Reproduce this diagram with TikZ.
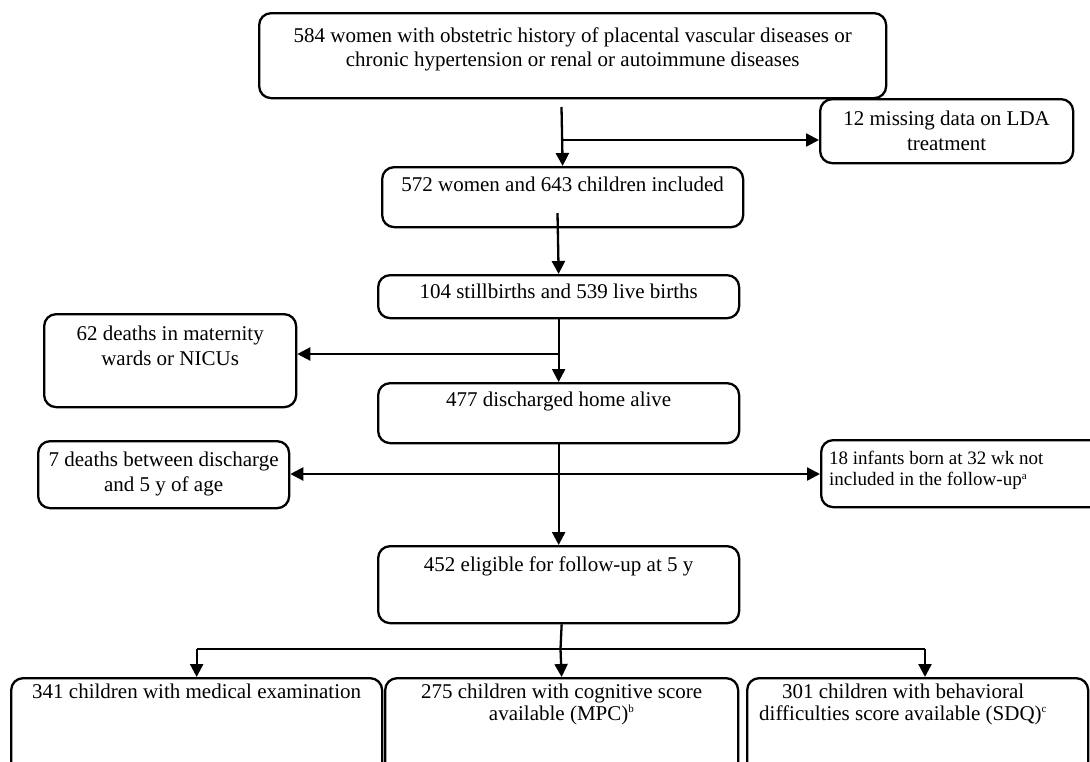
\documentclass[tikz,border=0pt]{standalone}
\usepackage{fontspec}
\setmainfont{Liberation Serif}
\usetikzlibrary{arrows.meta}
% #1 width, #2 height, #3 first-baseline offset, #4 text
\newcommand{\btx}[4]{\parbox[t][#2][t]{#1}{\centering\rule{0pt}{#3}#4}}
\tikzset{
  box/.style={draw, line width=2.3pt, rounded corners=12pt, inner sep=0pt, anchor=north west,
              font=\fontsize{21}{25}\selectfont},
  line/.style={line width=2.3pt},
  conn/.style={line width=2.3pt, -{Triangle[length=13pt,width=13pt]}},
  conn2/.style={line width=2.3pt, {Triangle[length=13pt,width=13pt]}-{Triangle[length=13pt,width=13pt]}}
}
\begin{document}
\begin{tikzpicture}[x=1pt,y=-1pt]
\useasboundingbox (0,0) rectangle (1090,761);

\node[box] (top) at (258,12) {\btx{627pt}{85pt}{29pt}{\fontsize{21}{24}\selectfont 584 women with obstetric history of placental vascular diseases or\\ chronic hypertension or renal or autoimmune diseases}};
\node[box] (miss) at (819,98) {\btx{253pt}{64pt}{26pt}{12 missing data on LDA\\treatment}};
\node[box] (incl) at (381,166) {\btx{361pt}{60pt}{24pt}{572 women and 643 children included}};
\node[box] (birth) at (377,274) {\btx{361pt}{43pt}{23pt}{104 stillbirths and 539 live births}};
\node[box] (dth1) at (43,313) {\btx{252pt}{93pt}{26pt}{62 deaths in maternity\\wards or NICUs}};
\node[box] (home) at (377,382) {\btx{361pt}{60pt}{23pt}{477 discharged home alive}};
\node[box] (dth2) at (37,440) {\btx{251pt}{67pt}{25pt}{7 deaths between discharge\\and 5 y of age}};
\node[box] (inf) at (820,439) {\parbox[t][67pt][t]{290pt}{\fontsize{19}{21.5}\selectfont\hspace*{8pt}\rule{0pt}{24pt}18 infants born at 32 wk not\\\hspace*{8pt}included in the follow-up\textsuperscript{\fontsize{11}{11}\selectfont a}}};
\node[box] (elig) at (377,545) {\btx{361pt}{77pt}{25pt}{452 eligible for follow-up at 5 y}};
\node[box] (med) at (10,677) {\btx{371pt}{110pt}{20pt}{\fontsize{21}{22}\selectfont 341 children with medical examination}};
\node[box] (cog) at (384,677) {\btx{353pt}{110pt}{20pt}{\fontsize{21}{22}\selectfont 275 children with cognitive score\\available (MPC)\textsuperscript{\fontsize{11}{11}\selectfont b}}};
\node[box] (beh) at (746,677) {\parbox[t][110pt][t]{341pt}{\rule{0pt}{20pt}\parbox[t]{312pt}{\centering\fontsize{21}{22}\selectfont 301 children with behavioral\\difficulties score available (SDQ)\textsuperscript{\fontsize{11}{11}\selectfont c}}}};

% connectors
\coordinate (s1) at (561.5,107);
\coordinate (b1) at (561.5,140);
\draw[conn] (s1) -- (incl.north);
\draw[conn] (b1) -- (b1 -| miss.west);

\coordinate (s2) at (557.5,213);
\draw[conn] (s2) -- (birth.north);

\coordinate (b2) at (557.5,354);
\draw[conn] (birth.south) -- (home.north);
\draw[conn] (b2) -- (b2 -| dth1.east);

\coordinate (b3) at (557.5,474);
\draw[conn] (home.south) -- (elig.north);
\draw[conn2] (b3 -| dth2.east) -- (b3 -| inf.west);

\coordinate (j) at (560.5,649);
\coordinate (r3) at (925,649);
\draw[line] (cog.north |- elig.south) -- (j);
\draw[line] (med.north |- j) -- (r3);
\draw[conn] (j) -- (cog.north);
\draw[conn] (med.north |- j) -- (med.north);
\draw[conn] (r3) -- (r3 |- beh.north);
\end{tikzpicture}
\end{document}
